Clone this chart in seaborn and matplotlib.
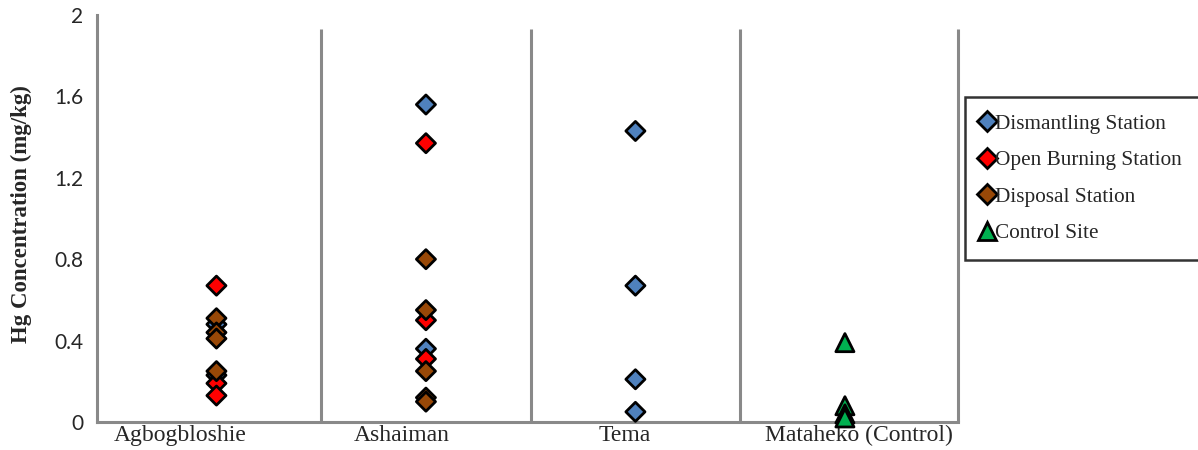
import matplotlib.pyplot as plt
import matplotlib.transforms as mtransforms
import pandas as pd
import seaborn as sns

# Hg concentration (mg/kg), per site and sampling station
sites = ['Agbogbloshie', 'Ashaiman', 'Tema', 'Mataheko (Control)']

dismantling_site = ['Agbogbloshie', 'Agbogbloshie', 'Ashaiman', 'Ashaiman',
                    'Tema', 'Tema', 'Tema', 'Tema']
dismantling_hg = [0.48, 0.23, 1.56, 0.36, 1.43, 0.67, 0.21, 0.05]

burning_site = ['Agbogbloshie', 'Agbogbloshie', 'Agbogbloshie',
                'Ashaiman', 'Ashaiman', 'Ashaiman']
burning_hg = [0.67, 0.19, 0.13, 1.37, 0.50, 0.31]

disposal_site = ['Agbogbloshie', 'Agbogbloshie', 'Agbogbloshie', 'Agbogbloshie',
                 'Ashaiman', 'Ashaiman', 'Ashaiman', 'Ashaiman', 'Ashaiman']
disposal_hg = [0.51, 0.44, 0.41, 0.25, 0.80, 0.55, 0.25, 0.12, 0.10]

control_site = ['Mataheko (Control)'] * 4
control_hg = [0.39, 0.08, 0.04, 0.02]

station_names = ['Dismantling Station', 'Open Burning Station',
                 'Disposal Station', 'Control Site']
station_colors = ['#4F81BD', '#FF0000', '#984807', '#00B050']
station_markers = ['D', 'D', 'D', '^']
station_sizes = [95, 95, 95, 170]


frames = []
for name, s, v in zip(station_names,
                      [dismantling_site, burning_site, disposal_site, control_site],
                      [dismantling_hg, burning_hg, disposal_hg, control_hg]):
    frames.append(pd.DataFrame({'site': s, 'hg': v, 'station': name}))
df = pd.concat(frames, ignore_index=True)
df['site'] = pd.Categorical(df['site'], categories=sites, ordered=True)
df['x'] = df['site'].cat.codes

sns.set_style('white')
plt.rcParams['font.family'] = ['Liberation Serif', 'DejaVu Serif']

fig = plt.figure(figsize=(11.98, 4.5), dpi=100)
ax = fig.add_axes([0.081, 0.0622, 0.7187, 0.9045])

axis_grey = '#898989'

# vertical separators between sites
for xv in [0.5, 1.5, 2.5, 3.54]:
    ax.vlines(xv, 0, 1.93, color=axis_grey, linewidth=2.2, zorder=1, clip_on=False)

sns.scatterplot(data=df, x='x', y='hg', hue='station', style='station', size='station',
                hue_order=station_names, style_order=station_names, size_order=station_names,
                palette=dict(zip(station_names, station_colors)),
                markers=dict(zip(station_names, station_markers)),
                sizes=dict(zip(station_names, station_sizes)),
                edgecolor='black', linewidth=2.0, ax=ax, zorder=3, clip_on=False)

ax.set_xlim(-0.57, 3.54)
ax.set_ylim(0, 2)
ax.set_xticks(range(len(sites)))
ax.set_xticklabels(sites, fontsize=17)
ax.set_yticks([0, 0.4, 0.8, 1.2, 1.6, 2])
ax.set_yticklabels(['0', '0.4', '0.8', '1.2', '1.6', '2'], fontsize=15, family='Lato')
ax.tick_params(axis='x', length=0, pad=2)
ax.tick_params(axis='y', length=6, width=2, color=axis_grey, direction='out', pad=4)

# the site names sit a little off their markers in the original
for lbl, dx in zip(ax.get_xticklabels(), [-36, -24, -11, 14]):
    lbl.set_transform(lbl.get_transform() +
                      mtransforms.ScaledTranslation(dx / 100, 0, fig.dpi_scale_trans))

ax.set_xlabel('')
ax.set_ylabel('Hg Concentration (mg/kg)', fontsize=16.5, fontweight='bold')
ax.yaxis.set_label_coords(-0.076, 0.51)

for side in ['top', 'right']:
    ax.spines[side].set_visible(False)
for side in ['left', 'bottom']:
    ax.spines[side].set_color(axis_grey)
    ax.spines[side].set_linewidth(2.2)

handles, labels = ax.get_legend_handles_labels()
leg = ax.legend(handles, labels, loc='upper left',
                bbox_to_anchor=(965 / 1198, 1 - 97 / 450), bbox_transform=fig.transFigure,
                fontsize=15.3, frameon=True, fancybox=False, edgecolor='black',
                handlelength=0.5, handletextpad=0.1, labelspacing=0.78,
                borderpad=0.8, borderaxespad=0)
leg.get_frame().set_linewidth(1.8)
for h in leg.legend_handles:
    h.set_markeredgecolor('black')
    h.set_markeredgewidth(2.0)

plt.savefig('out.png', dpi=100)
plt.close()
